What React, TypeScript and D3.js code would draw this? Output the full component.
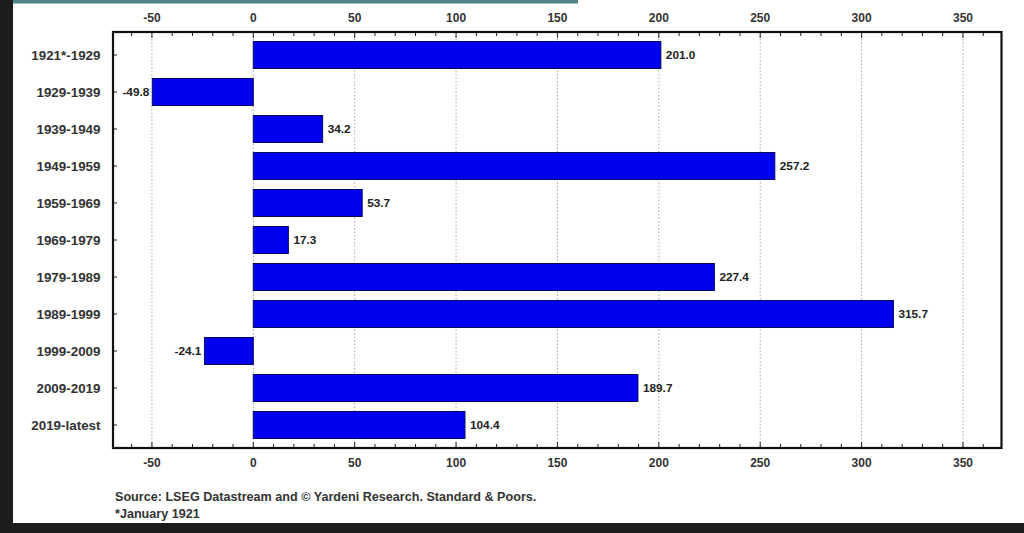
import React from "react";
import * as d3 from "d3";

const categories = ["1921*-1929", "1929-1939", "1939-1949", "1949-1959", "1959-1969", "1969-1979", "1979-1989", "1989-1999", "1999-2009", "2009-2019", "2019-latest"];
const values = [201.0, -49.8, 34.2, 257.2, 53.7, 17.3, 227.4, 315.7, -24.1, 189.7, 104.4];
const majorTicks = [-50, 0, 50, 100, 150, 200, 250, 300, 350];
const notes = ["Source: LSEG Datastream and \u00a9 Yardeni Research. Standard & Poors.", "*January 1921"];

const W = 1024, H = 533;
const left = 113, right = 1001.5, top = 32, bottom = 448;

export default function App() {
  const x = d3.scaleLinear().domain([-69.2, 369]).range([left, right]);
  const y = d3.scaleBand().domain(categories).range([36.5, 443.5]).paddingInner(0.27).paddingOuter(0.135);
  const minor = d3.range(-60, 370, 10).filter((v) => !majorTicks.includes(v));
  const font = "'Liberation Sans', Arial, sans-serif";
  return (
    <svg width={W} height={H} style={{ position: "absolute", left: 0, top: 0 }}>
      <rect x={0} y={0} width={W} height={H} fill="#1c1c1c" />
      <rect x={13} y={0} width={W - 13} height={523} fill="#ffffff" />
      <rect x={13} y={0} width={565} height={3.5} fill="#4f8585" />
      {majorTicks.map((t) => (
        <line key={"g" + t} x1={x(t)} x2={x(t)} y1={top} y2={bottom} stroke="#a8a8a8" strokeWidth={1} strokeDasharray="1.5,2" />
      ))}
      {values.map((v, i) => {
        const x0 = x(Math.min(0, v));
        const w = Math.abs(x(v) - x(0));
        return (
          <rect key={"b" + i} x={x0} y={y(categories[i])!} width={w} height={y.bandwidth()} fill="#0000f0" stroke="#0a0a60" strokeWidth={1} />
        );
      })}
      {values.map((v, i) => (
        <text key={"v" + i} x={v >= 0 ? x(v) + 5 : x(v) - 3} y={y(categories[i])! + y.bandwidth() / 2 + 4} textAnchor={v >= 0 ? "start" : "end"} fontFamily={font} fontWeight="bold" fontSize={11.8} fill="#222">
          {v.toFixed(1)}
        </text>
      ))}
      {minor.map((t) => (
        <g key={"m" + t}>
          <line x1={x(t)} x2={x(t)} y1={top} y2={top + 4} stroke="#222" strokeWidth={1} />
          <line x1={x(t)} x2={x(t)} y1={bottom} y2={bottom - 4} stroke="#222" strokeWidth={1} />
        </g>
      ))}
      {majorTicks.map((t) => (
        <g key={"t" + t}>
          <line x1={x(t)} x2={x(t)} y1={top} y2={top + 6} stroke="#222" strokeWidth={1} />
          <line x1={x(t)} x2={x(t)} y1={bottom} y2={bottom - 6} stroke="#222" strokeWidth={1} />
          <text x={x(t)} y={22} textAnchor="middle" fontFamily={font} fontWeight="bold" fontSize={12} fill="#333">{t}</text>
          <text x={x(t)} y={467} textAnchor="middle" fontFamily={font} fontWeight="bold" fontSize={12} fill="#333">{t}</text>
        </g>
      ))}
      {categories.map((c) => (
        <g key={"c" + c}>
          <line x1={left} x2={left + 4} y1={y(c)! + y.bandwidth() / 2} y2={y(c)! + y.bandwidth() / 2} stroke="#222" strokeWidth={1} />
          <text x={100.5} y={y(c)! + y.bandwidth() / 2 + 4.5} textAnchor="end" fontFamily={font} fontWeight="bold" fontSize={13.4} fill="#333">{c}</text>
        </g>
      ))}
      <rect x={left} y={top} width={right - left} height={bottom - top} fill="none" stroke="#111" strokeWidth={2.2} />
      {notes.map((n, i) => (
        <text key={"n" + i} x={115} y={501 + i * 16.5} fontFamily={font} fontWeight="bold" fontSize={12.6} fill="#333">{n}</text>
      ))}
    </svg>
  );
}
